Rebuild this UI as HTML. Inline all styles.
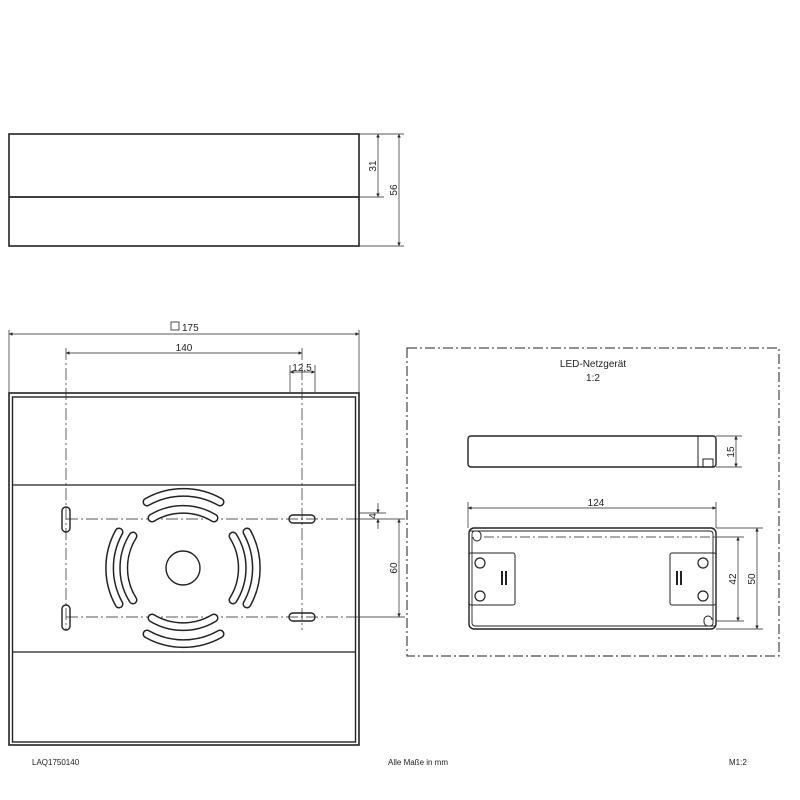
<!DOCTYPE html>
<html><head><meta charset="utf-8"><style>body{margin:0;background:#fff}svg{display:block}text{font-family:"Liberation Sans",sans-serif;fill:#222}</style></head><body>
<svg width="800" height="800" viewBox="0 0 800 800" xmlns="http://www.w3.org/2000/svg">
<defs>
<marker id="a" viewBox="0 0 10 10" refX="10" refY="5" markerWidth="7" markerHeight="5" orient="auto-start-reverse"><path d="M0,0L10,5L0,10z" fill="#222"/></marker>
</defs>
<g fill="none" stroke="#222">
<!-- side view -->
<rect x="9" y="134" width="350" height="112" stroke-width="1.6"/>
<line x1="9" y1="197" x2="359" y2="197" stroke-width="1.8"/>
<g stroke-width="0.7">
<line x1="359" y1="134" x2="404" y2="134"/><line x1="359" y1="197" x2="384" y2="197"/><line x1="359" y1="246" x2="404" y2="246"/>
<line x1="378" y1="134" x2="378" y2="197" marker-start="url(#a)" marker-end="url(#a)"/>
<line x1="399" y1="134" x2="399" y2="246" marker-start="url(#a)" marker-end="url(#a)"/>
</g>
<!-- plan -->
<rect x="9" y="393" width="350" height="352" stroke-width="1.6"/>
<rect x="12.5" y="397" width="343" height="345" stroke-width="1.4"/>
<line x1="12" y1="485" x2="356" y2="485" stroke-width="1.2"/>
<line x1="12" y1="652" x2="356" y2="652" stroke-width="1.2"/>
<g stroke-width="0.7">
<line x1="9" y1="330" x2="9" y2="393"/><line x1="359" y1="330" x2="359" y2="393"/>
<line x1="9" y1="334" x2="359" y2="334" marker-start="url(#a)" marker-end="url(#a)"/>
<line x1="66" y1="353" x2="302" y2="353" marker-start="url(#a)" marker-end="url(#a)"/>
<line x1="290" y1="365" x2="290" y2="392"/><line x1="315" y1="365" x2="315" y2="392"/>
<line x1="290" y1="372" x2="315" y2="372" marker-start="url(#a)" marker-end="url(#a)"/>
<g stroke-dasharray="12 3 2 3">
<line x1="66" y1="348" x2="66" y2="630"/><line x1="302" y1="348" x2="302" y2="630"/>
<line x1="66" y1="519" x2="360" y2="519"/><line x1="66" y1="617" x2="360" y2="617"/>
</g>
<line x1="359" y1="513" x2="386" y2="513"/><line x1="359" y1="519" x2="405" y2="519"/><line x1="359" y1="617" x2="405" y2="617"/>
<line x1="378" y1="503" x2="378" y2="513" marker-end="url(#a)"/><line x1="378" y1="529" x2="378" y2="519" marker-end="url(#a)"/>
<line x1="399" y1="519" x2="399" y2="617" marker-start="url(#a)" marker-end="url(#a)"/>
</g>
<!-- slots -->
<g stroke-width="1.4">
<rect x="62" y="507" width="8" height="25" rx="4"/><rect x="62" y="605" width="8" height="25" rx="4"/>
<rect x="289" y="515" width="26" height="8" rx="4"/><rect x="289" y="613" width="26" height="8" rx="4"/>
<circle cx="183" cy="568" r="17"/>
</g>
<g id="arcs" stroke-linecap="round">
<path d="M147,502 A74,74 0 0 1 220,502 M152,518 A60,60 0 0 1 214,518 M147,634 A74,74 0 0 0 220,634 M152,618 A60,60 0 0 0 214,618 M119,532 A74,74 0 0 0 119,604 M133,536 A60,60 0 0 0 133,600 M247,532 A74,74 0 0 1 247,604 M233,536 A60,60 0 0 1 233,600" stroke-width="9"/>
<path d="M147,502 A74,74 0 0 1 220,502 M152,518 A60,60 0 0 1 214,518 M147,634 A74,74 0 0 0 220,634 M152,618 A60,60 0 0 0 214,618 M119,532 A74,74 0 0 0 119,604 M133,536 A60,60 0 0 0 133,600 M247,532 A74,74 0 0 1 247,604 M233,536 A60,60 0 0 1 233,600" stroke-width="6" stroke="#fff"/>
</g>
<!-- LED box -->
<rect x="407" y="348" width="372" height="308" stroke-width="1" stroke-dasharray="10 3 2 3"/>
<rect x="468" y="436" width="248" height="31" rx="3" stroke-width="1.4"/>
<line x1="698" y1="436" x2="698" y2="467" stroke-width="1"/>
<rect x="703" y="459" width="10" height="8" stroke-width="1"/>
<g stroke-width="0.7">
<line x1="716" y1="436" x2="742" y2="436"/><line x1="716" y1="467" x2="742" y2="467"/>
<line x1="736" y1="436" x2="736" y2="467" marker-start="url(#a)" marker-end="url(#a)"/>
<line x1="468" y1="502" x2="468" y2="528"/><line x1="716" y1="502" x2="716" y2="528"/>
<line x1="468" y1="508" x2="716" y2="508" marker-start="url(#a)" marker-end="url(#a)"/>
<line x1="716" y1="528" x2="763" y2="528"/><line x1="716" y1="629" x2="763" y2="629"/>
<line x1="716" y1="537" x2="744" y2="537"/><line x1="716" y1="621" x2="744" y2="621"/>
<line x1="738" y1="537" x2="738" y2="621" marker-start="url(#a)" marker-end="url(#a)"/>
<line x1="757" y1="528" x2="757" y2="629" marker-start="url(#a)" marker-end="url(#a)"/>
<line x1="484" y1="537" x2="716" y2="537" stroke-dasharray="10 3 2 3"/>
</g>
<rect x="469" y="528" width="247" height="101" rx="5" stroke-width="1.4"/>
<rect x="472" y="531" width="241" height="95" rx="3" stroke-width="0.9"/>
<path d="M470,531 h7 a4,4 0 0 1 4,4 v2 a4,4 0 0 1 -8,0" stroke-width="1"/>
<path d="M715,626 h-7 a4,4 0 0 1 -4,-4 v-2 a4,4 0 0 1 8,0" stroke-width="1"/>
<rect x="469" y="553" width="46" height="52" rx="2" stroke-width="1"/>
<rect x="670" y="553" width="46" height="52" rx="2" stroke-width="1"/>
<g stroke-width="1.2">
<circle cx="480" cy="563" r="5"/><circle cx="480" cy="596" r="5"/><circle cx="703" cy="563" r="5"/><circle cx="703" cy="596" r="5"/>
</g>
<g stroke-width="2"><line x1="502" y1="571" x2="502" y2="585"/><line x1="506" y1="571" x2="506" y2="585"/><line x1="677" y1="571" x2="677" y2="585"/><line x1="681" y1="571" x2="681" y2="585"/></g>
</g>
<g font-size="10">
<rect x="171" y="322" width="8" height="8" fill="none" stroke="#222" stroke-width="0.8"/>
<text x="182" y="331">175</text>
<text x="184" y="351" text-anchor="middle">140</text>
<text x="302" y="371" text-anchor="middle">12,5</text>
<text transform="translate(376,166) rotate(-90)" text-anchor="middle">31</text>
<text transform="translate(397,190) rotate(-90)" text-anchor="middle">56</text>
<text transform="translate(376,516) rotate(-90)" text-anchor="middle">4</text>
<text transform="translate(397,568) rotate(-90)" text-anchor="middle">60</text>
<text x="593" y="367" text-anchor="middle">LED-Netzgerät</text>
<text x="593" y="381" text-anchor="middle">1:2</text>
<text transform="translate(734,452) rotate(-90)" text-anchor="middle">15</text>
<text x="596" y="506" text-anchor="middle">124</text>
<text transform="translate(736,579) rotate(-90)" text-anchor="middle">42</text>
<text transform="translate(755,579) rotate(-90)" text-anchor="middle">50</text>
</g>
<g font-size="8">
<text x="32" y="765">LAQ1750140</text>
<text x="388" y="765">Alle Maße in mm</text>
<text x="729" y="765">M1:2</text>
</g>
</svg>
</body></html>
